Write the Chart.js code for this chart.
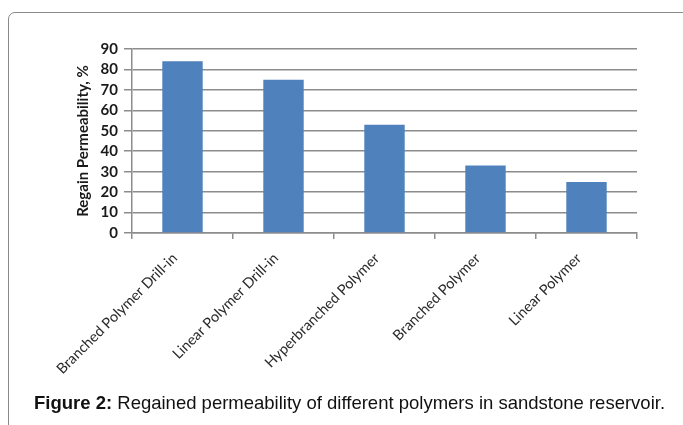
<!DOCTYPE html>
<html>
<head>
<meta charset="utf-8">
<script src="https://cdn.jsdelivr.net/npm/chart.js@4"></script>
<style>
  html, body { margin: 0; padding: 0; background: #fff; overflow: hidden; }
  #frame {
    position: absolute; left: 8px; top: 12px; width: 720px; height: 460px;
    border: 1px solid #8a8a8a; border-radius: 7px; box-sizing: border-box;
  }
  #wrap { position: absolute; left: 0; top: 0; width: 683px; height: 425px; }
  #caption {
    position: absolute; left: 34px; top: 392px; white-space: nowrap;
    font-family: "Liberation Sans", Arial, sans-serif; font-size: 18.5px; color: #111;
  }
  #caption b { font-weight: bold; }
</style>
</head>
<body>
<div id="frame"></div>
<div id="wrap"><canvas id="chart"></canvas></div>
<div id="caption"><b>Figure 2:</b> Regained permeability of different polymers in sandstone reservoir.</div>
<script>
// Regain permeability per fluid type
const categories = [
    'Branched Polymer Drill-in',
    'Linear Polymer Drill-in',
    'Hyperbranched Polymer',
    'Branched Polymer',
    'Linear Polymer'
];
const regainValues = [84, 75, 53, 33, 25];
const yTicks = [0, 10, 20, 30, 40, 50, 60, 70, 80, 90];

const axisGray = '#8c8c8c';
const chartFont = 'Lato, "Open Sans", sans-serif';

const ctx = document.getElementById('chart').getContext('2d');
new Chart(ctx, {
    type: 'bar',
    data: {
        labels: categories,
        datasets: [{
            label: 'Regain Permeability, %',
            data: regainValues,
            backgroundColor: '#4f81bd',
            borderWidth: 0,
            categoryPercentage: 1.0,
            barPercentage: 0.4
        }]
    },
    options: {
        responsive: true,
        maintainAspectRatio: false,
        animation: false,
        layout: {
            padding: { left: 72, right: 46, top: 49, bottom: 0 }
        },
        plugins: {
            legend: { display: false },
            tooltip: { enabled: false }
        },
        scales: {
            x: {
                grid: {
                    drawOnChartArea: false,
                    drawTicks: true,
                    tickLength: 6,
                    color: axisGray,
                    lineWidth: 1.5
                },
                border: { color: axisGray, width: 1.5 },
                ticks: {
                    color: '#2a2a2a',
                    font: { family: chartFont, size: 14.5 },
                    maxRotation: 45,
                    minRotation: 45,
                    autoSkip: false,
                    padding: 3,
                    // em space at the end pulls each rotated label down-left like the original
                    callback: function(value, index) {
                        return categories[index] + '\u2003';
                    }
                },
                afterFit: function(scale) {
                    scale.height = 425 - 233;
                }
            },
            y: {
                min: 0,
                max: 90,
                afterBuildTicks: function(scale) {
                    scale.ticks = yTicks.map(v => ({ value: v }));
                },
                grid: {
                    color: axisGray,
                    lineWidth: 1.5,
                    tickLength: 8
                },
                border: { color: axisGray, width: 1.5 },
                ticks: {
                    color: '#1a1a1a',
                    font: { family: chartFont, size: 15, weight: 'bold' },
                    autoSkip: false,
                    padding: 6
                },
                title: {
                    display: true,
                    text: 'Regain Permeability, %',
                    color: '#1a1a1a',
                    font: { family: chartFont, size: 15, weight: 'bold' },
                    padding: { top: 2, bottom: 0 }
                },
                afterFit: function(scale) {
                    scale.width = 132 - 72;
                }
            }
        }
    }
});
</script>
</body>
</html>
